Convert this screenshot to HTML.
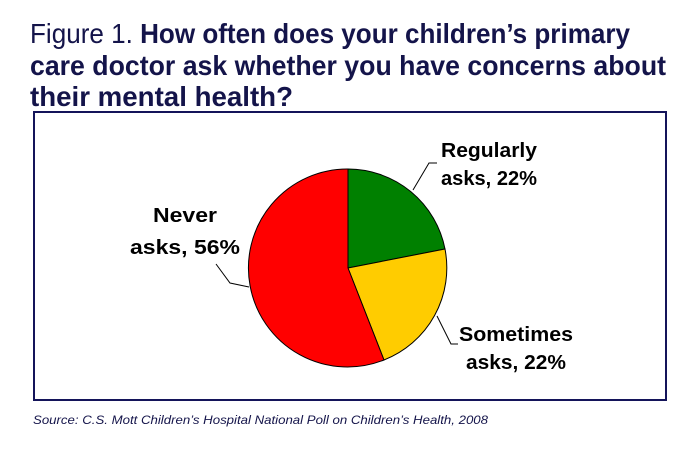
<!DOCTYPE html>
<html><head><style>
body{margin:0;background:#fff;width:695px;height:448px;overflow:hidden;font-family:"Liberation Sans",Arial,sans-serif}
</style></head><body>
<svg width="695" height="448" xmlns="http://www.w3.org/2000/svg" font-family="Liberation Sans, Arial, sans-serif">
<g fill="#14144a" font-size="28">
<text x="30" y="43" textLength="600" lengthAdjust="spacingAndGlyphs"><tspan>Figure 1. </tspan><tspan font-weight="bold">How often does your children’s primary</tspan></text>
<text x="30" y="75" font-weight="bold" textLength="636" lengthAdjust="spacingAndGlyphs">care doctor ask whether you have concerns about</text>
<text x="30" y="106" font-weight="bold" textLength="263" lengthAdjust="spacingAndGlyphs">their mental health?</text>
</g>
<rect x="34" y="112" width="632" height="288" fill="#fff" stroke="#14145a" stroke-width="2"/>
<g stroke="#000" stroke-width="1">
<path d="M348,268 L348,169 A99,99 0 0 1 445,249 Z" fill="#008000"/>
<path d="M348,268 L445,249 A99,99 0 0 1 384,360 Z" fill="#ffcc00"/>
<path d="M348,268 L384,360 A99,99 0 1 1 348,169 Z" fill="#ff0000"/>
<polyline points="413,190 429,163 437,163" fill="none"/>
<polyline points="249,287 230,283 216,264" fill="none"/>
<polyline points="437,316 451,344 458,344" fill="none"/>
</g>
<g font-size="20" font-weight="bold" fill="#000" text-anchor="middle">
<text x="489" y="157" textLength="96" lengthAdjust="spacingAndGlyphs">Regularly</text>
<text x="489" y="185" textLength="96" lengthAdjust="spacingAndGlyphs">asks, 22%</text>
<text x="185" y="222" textLength="64" lengthAdjust="spacingAndGlyphs">Never</text>
<text x="185" y="254" textLength="110" lengthAdjust="spacingAndGlyphs">asks, 56%</text>
<text x="516" y="341" textLength="114" lengthAdjust="spacingAndGlyphs">Sometimes</text>
<text x="516" y="369" textLength="100" lengthAdjust="spacingAndGlyphs">asks, 22%</text>
</g>
<text x="33" y="424" font-size="12" font-style="italic" fill="#14144a" textLength="455" lengthAdjust="spacingAndGlyphs">Source: C.S. Mott Children’s Hospital National Poll on Children’s Health, 2008</text>
</svg>
</body></html>
